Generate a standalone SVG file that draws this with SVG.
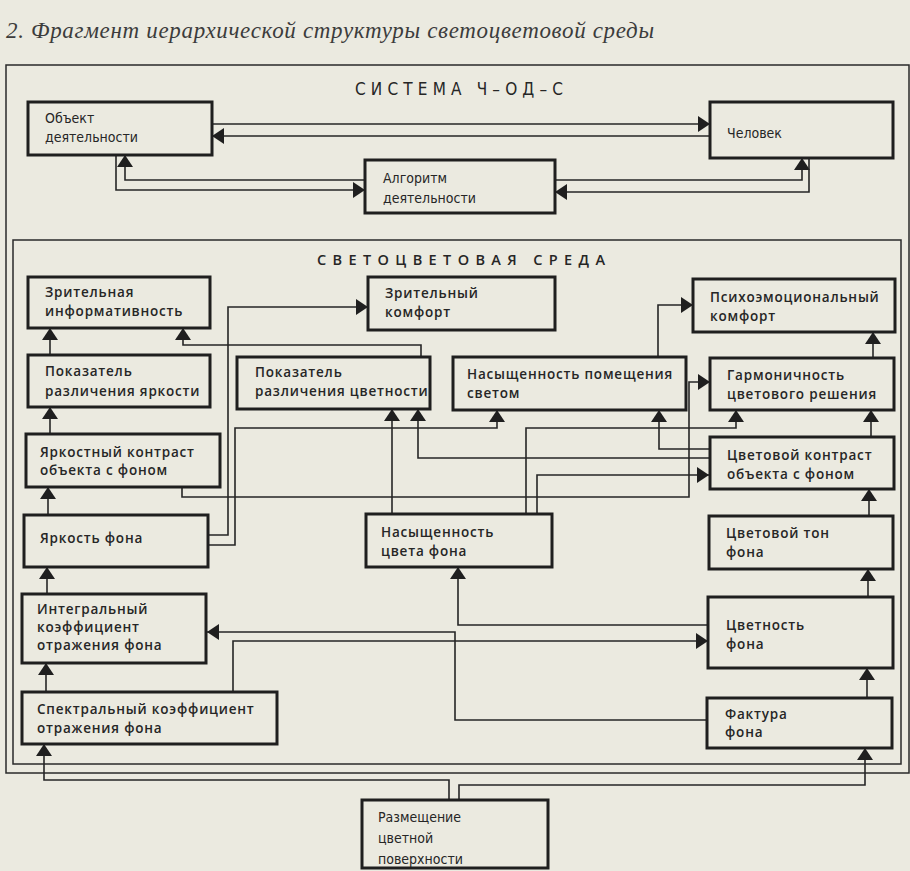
<svg xmlns="http://www.w3.org/2000/svg" width="910" height="871" viewBox="0 0 910 871">
<defs>
<style>
.bg{fill:#ebeae0}
.box{fill:none;stroke:#1f1f1f;stroke-width:3}
.frame{fill:none;stroke:#2a2a2a;stroke-width:1.5}
.ln{fill:none;stroke:#262626;stroke-width:1.6}
.ar{marker-end:url(#ah)}
.t{font-family:"Open Sans","DejaVu Sans",sans-serif;font-weight:600;font-size:13.5px;letter-spacing:0.8px;fill:#262626}
.c{font-family:"DejaVu Sans Condensed","DejaVu Sans",sans-serif;font-size:14px;fill:#262626}
.h{font-family:"Open Sans","DejaVu Sans",sans-serif;font-weight:600;font-size:14.5px;fill:#262626}
.hc{font-family:"DejaVu Sans Condensed","DejaVu Sans",sans-serif;font-size:17px;fill:#262626}
.title{font-family:"Liberation Serif","DejaVu Serif",serif;font-style:italic;font-size:23px;fill:#3c3c3c}
</style>
<marker id="ah" viewBox="0 0 12 16" refX="12" refY="8" markerWidth="12" markerHeight="16" markerUnits="userSpaceOnUse" orient="auto">
<path d="M0,0 L12,8 L0,16 z" fill="#1f1f1f"/>
</marker>
</defs>
<rect class="bg" x="0" y="0" width="910" height="871"/>
<text class="title" x="6" y="38" textLength="648" lengthAdjust="spacing">2. Фрагмент иерархической структуры светоцветовой среды</text>

<g id="frames">
<rect class="frame" x="6" y="65" width="903" height="708"/>
<rect class="frame" x="13" y="240" width="888" height="524"/>
<text class="hc" x="355" y="95" textLength="208" lengthAdjust="spacing">СИСТЕМА Ч–ОД–С</text>
<text class="h" x="317" y="265" textLength="288" lengthAdjust="spacing">СВЕТОЦВЕТОВАЯ СРЕДА</text>
</g>

<g id="connectors">
<!-- system -->
<path class="ln ar" d="M212,124 H710"/>
<path class="ln ar" d="M710,136 H212"/>
<path class="ln ar" d="M365,180 H125 V155"/>
<path class="ln ar" d="M116,155 V190 H365"/>
<path class="ln ar" d="M555,180 H802 V158"/>
<path class="ln ar" d="M809,158 V192 H555"/>
<!-- left column -->
<path class="ln ar" d="M50,355 V328"/>
<path class="ln ar" d="M50,434 V407"/>
<path class="ln ar" d="M48,515 V487"/>
<path class="ln ar" d="M47,594 V567"/>
<path class="ln ar" d="M46,692 V663"/>
<!-- right column -->
<path class="ln ar" d="M873,358 V332"/>
<path class="ln ar" d="M871,437 V410"/>
<path class="ln ar" d="M869,516 V489"/>
<path class="ln ar" d="M868,597 V569"/>
<path class="ln ar" d="M867,698 V668"/>
<!-- bottom -->
<path class="ln ar" d="M449,800 V780 H44 V744"/>
<path class="ln ar" d="M459,800 V785 H865 V748"/>
<!-- middle -->
<path class="ln ar" d="M208,535 H228 V307 H368"/>
<path class="ln ar" d="M208,545 H235 V428 H497 V410"/>
<path class="ln ar" d="M421,357 V345 H183 V328"/>
<path class="ln ar" d="M658,357 V305 H693"/>
<path class="ln ar" d="M182,487 V497 H689 V382 H710"/>
<path class="ln ar" d="M526,514 V428 H736 V410"/>
<path class="ln ar" d="M537,514 V475 H709"/>
<path class="ln ar" d="M710,449 H659 V410"/>
<path class="ln ar" d="M710,458 H418 V409"/>
<path class="ln ar" d="M392,514 V409"/>
<path class="ln ar" d="M708,625 H458 V567"/>
<path class="ln ar" d="M707,720 H455 V632 H207"/>
<path class="ln ar" d="M233,692 V641 H708"/>
</g>

<g id="n-obj"><rect class="box" x="28" y="102" width="184" height="53"/><text class="c" x="45" y="123">Объект</text><text class="c" x="45" y="142">деятельности</text></g>
<g id="n-chel"><rect class="box" x="710" y="102" width="183" height="56"/><text class="c" x="727" y="138">Человек</text></g>
<g id="n-alg"><rect class="box" x="365" y="160" width="190" height="53"/><text class="c" x="383" y="183">Алгоритм</text><text class="c" x="383" y="203">деятельности</text></g>

<g id="n1"><rect class="box" x="28" y="277" width="182" height="51"/><text class="t" x="45" y="297">Зрительная</text><text class="t" x="45" y="316">информативность</text></g>
<g id="n7"><rect class="box" x="368" y="277" width="187" height="53"/><text class="t" x="385" y="298">Зрительный</text><text class="t" x="385" y="317">комфорт</text></g>
<g id="n11"><rect class="box" x="693" y="279" width="202" height="53"/><text class="t" x="710" y="302">Психоэмоциональный</text><text class="t" x="710" y="321">комфорт</text></g>
<g id="n2"><rect class="box" x="28" y="355" width="182" height="52"/><text class="t" x="45" y="376">Показатель</text><text class="t" x="45" y="396">различения яркости</text></g>
<g id="n8"><rect class="box" x="237" y="357" width="193" height="52"/><text class="t" x="255" y="377">Показатель</text><text class="t" x="255" y="396">различения цветности</text></g>
<g id="n9"><rect class="box" x="453" y="357" width="233" height="53"/><text class="t" x="467" y="379">Насыщенность помещения</text><text class="t" x="467" y="398">светом</text></g>
<g id="n12"><rect class="box" x="710" y="358" width="184" height="52"/><text class="t" x="727" y="380">Гармоничность</text><text class="t" x="727" y="399">цветового решения</text></g>
<g id="n3"><rect class="box" x="26" y="434" width="194" height="53"/><text class="t" x="40" y="457">Яркостный контраст</text><text class="t" x="40" y="475">объекта с фоном</text></g>
<g id="n13"><rect class="box" x="710" y="437" width="184" height="52"/><text class="t" x="727" y="460">Цветовой контраст</text><text class="t" x="727" y="479">объекта с фоном</text></g>
<g id="n4"><rect class="box" x="24" y="515" width="184" height="52"/><text class="t" x="40" y="543">Яркость фона</text></g>
<g id="n10"><rect class="box" x="366" y="514" width="186" height="53"/><text class="t" x="381" y="537">Насыщенность</text><text class="t" x="381" y="556">цвета фона</text></g>
<g id="n14"><rect class="box" x="709" y="516" width="184" height="53"/><text class="t" x="726" y="538">Цветовой тон</text><text class="t" x="726" y="557">фона</text></g>
<g id="n5"><rect class="box" x="22" y="594" width="184" height="69"/><text class="t" x="37" y="614">Интегральный</text><text class="t" x="37" y="632">коэффициент</text><text class="t" x="37" y="650">отражения фона</text></g>
<g id="n15"><rect class="box" x="708" y="597" width="185" height="71"/><text class="t" x="726" y="630">Цветность</text><text class="t" x="726" y="649">фона</text></g>
<g id="n6"><rect class="box" x="22" y="692" width="255" height="52"/><text class="t" x="37" y="714">Спектральный коэффициент</text><text class="t" x="37" y="733">отражения фона</text></g>
<g id="n16"><rect class="box" x="707" y="698" width="185" height="50"/><text class="t" x="725" y="719">Фактура</text><text class="t" x="725" y="737">фона</text></g>
<g id="n17"><rect class="box" x="362" y="800" width="186" height="68"/><text class="c" x="378" y="822">Размещение</text><text class="c" x="378" y="843">цветной</text><text class="c" x="378" y="864">поверхности</text></g>
</svg>
